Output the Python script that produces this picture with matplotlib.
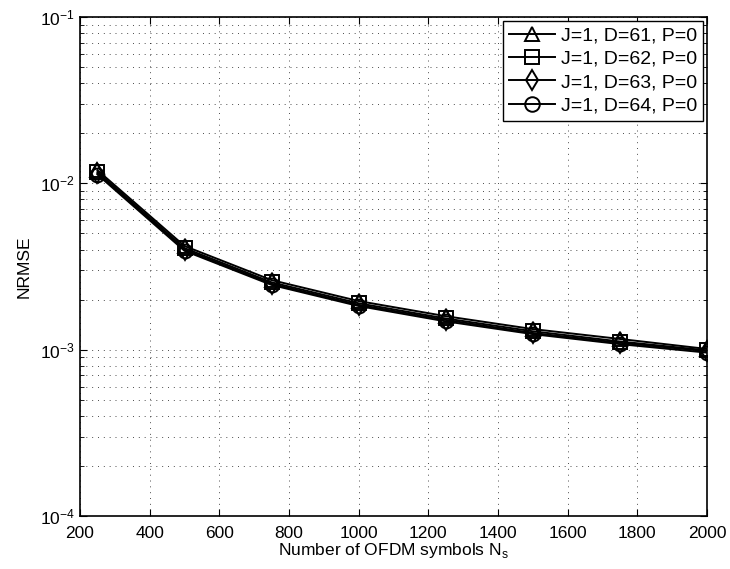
import matplotlib
matplotlib.use('Agg')
import matplotlib.pyplot as plt
from matplotlib.ticker import LogLocator, NullFormatter

plt.rcParams['font.family'] = ['Liberation Sans', 'DejaVu Sans']
plt.rcParams['mathtext.fontset'] = 'custom'
plt.rcParams['mathtext.rm'] = 'Liberation Sans'

# data
ns = [250, 500, 750, 1000, 1250, 1500, 1750, 2000]
nrmse_d61 = [0.0120, 0.00420, 0.00262, 0.00196, 0.00159, 0.00133, 0.00116, 0.00101]
nrmse_d62 = [0.0117, 0.00408, 0.00254, 0.00190, 0.00154, 0.00129, 0.00112, 0.00099]
nrmse_d63 = [0.0115, 0.00400, 0.00249, 0.00186, 0.00151, 0.00126, 0.00110, 0.00098]
nrmse_d64 = [0.0113, 0.00393, 0.00245, 0.00183, 0.00148, 0.00124, 0.00108, 0.00096]
labels = ['J=1, D=61, P=0', 'J=1, D=62, P=0', 'J=1, D=63, P=0', 'J=1, D=64, P=0']
markers = ['^', 's', 'd', 'o']

fig = plt.figure(figsize=(7.3, 5.69), dpi=100)
ax = fig.add_axes([0.1096, 0.0931, 0.859, 0.877])

for y, lab, m in zip([nrmse_d61, nrmse_d62, nrmse_d63, nrmse_d64], labels, markers):
    ax.semilogy(ns, y, color='black', linewidth=1.4, marker=m, markersize=10,
                markerfacecolor='none', markeredgecolor='black', markeredgewidth=1.4,
                label=lab)

ax.set_xlim(200, 2000)
ax.set_ylim(1e-4, 1e-1)
ax.set_xticks(range(200, 2001, 200))
ax.yaxis.set_major_locator(LogLocator(base=10, numticks=10))
ax.yaxis.set_minor_locator(LogLocator(base=10, subs=range(2, 10), numticks=10))
ax.yaxis.set_minor_formatter(NullFormatter())

dots = (0, (1, 5))
ax.grid(True, which='major', linestyle=dots, color='black', linewidth=0.7, alpha=0.7)
ax.grid(True, which='minor', axis='y', linestyle=dots, color='black', linewidth=0.7, alpha=0.7)
ax.tick_params(which='both', direction='in', top=True, right=True, labelsize=12.5)
ax.tick_params(axis='x', pad=7)
ax.tick_params(which='major', length=5)
ax.tick_params(which='minor', length=3)
for s in ax.spines.values():
    s.set_linewidth(1.2)

ax.set_xlabel('Number of OFDM symbols N$_\\mathrm{s}$', fontsize=12.5, labelpad=0)
ax.set_ylabel('NRMSE', fontsize=12.5, labelpad=6)

leg = ax.legend(loc='upper right', fontsize=14, fancybox=False, framealpha=1,
                edgecolor='black', handlelength=2.4, borderpad=0.3, labelspacing=0.3,
                handletextpad=0.3, borderaxespad=0.2, markerscale=1.05)
leg.get_frame().set_linewidth(1.0)

fig.savefig('out.png', dpi=100, facecolor='white')
